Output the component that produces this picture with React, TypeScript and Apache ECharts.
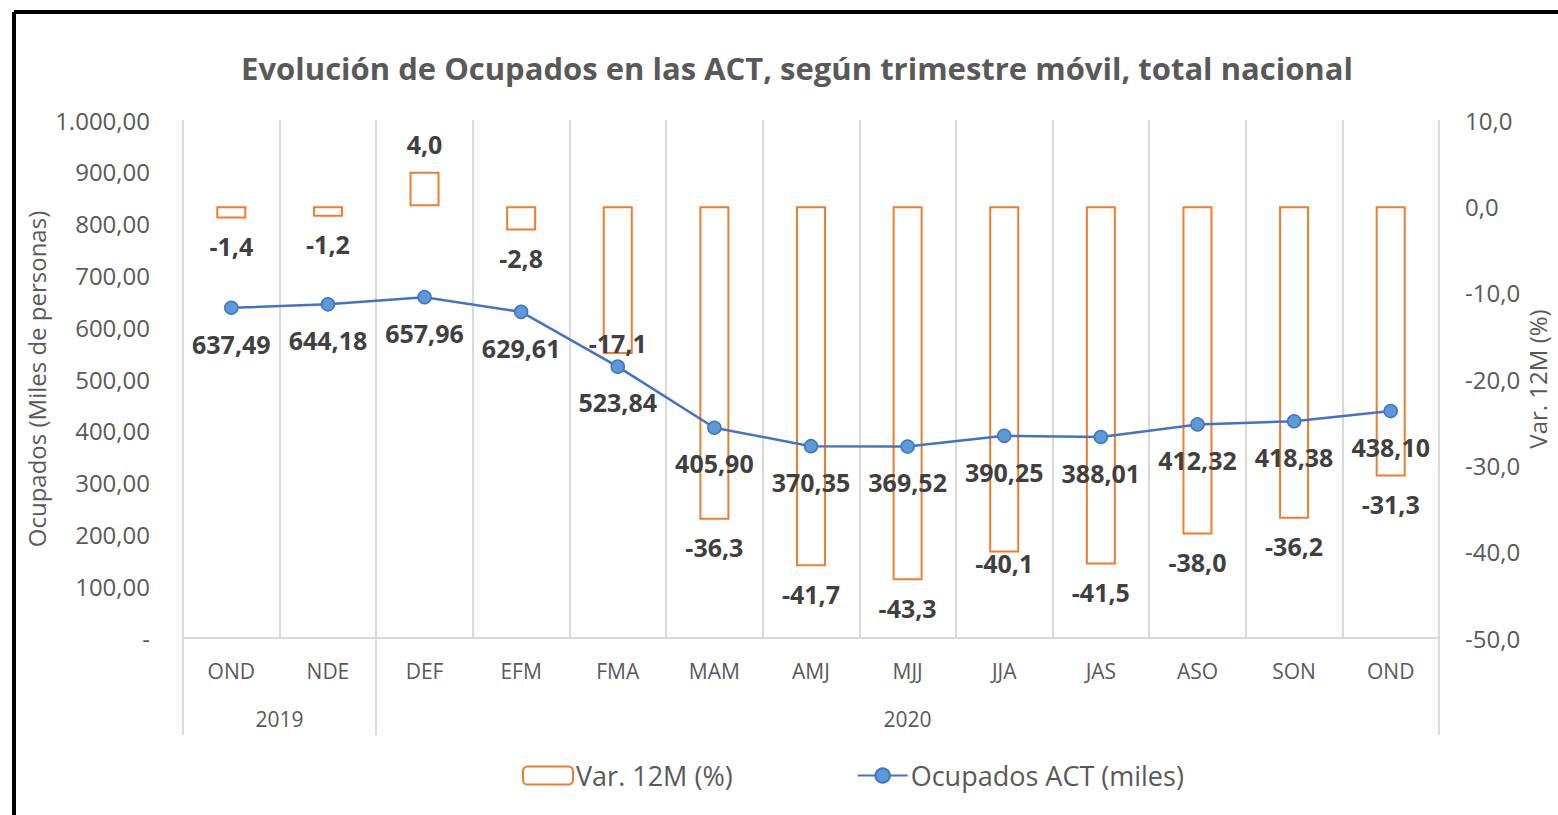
import React, { useEffect, useRef } from 'react';
import * as echarts from 'echarts';

const months = ['OND', 'NDE', 'DEF', 'EFM', 'FMA', 'MAM', 'AMJ', 'MJJ', 'JJA', 'JAS', 'ASO', 'SON', 'OND'];
const years = ['2019', '2020'];
const yearSpans = [2, 11];
const varPct = [-1.4, -1.2, 4.0, -2.8, -17.1, -36.3, -41.7, -43.3, -40.1, -41.5, -38.0, -36.2, -31.3];
const ocupados = [637.49, 644.18, 657.96, 629.61, 523.84, 405.9, 370.35, 369.52, 390.25, 388.01, 412.32, 418.38, 438.1];
const leftAxis = { min: 0, max: 1000, interval: 100 };
const rightAxis = { min: -50, max: 10, interval: 10 };

const FONT = "'Open Sans', sans-serif";
const GRAY = '#595959';
const GRID = '#D9D9D9';

function fmtNum(v: number, d: number): string {
  const s = v.toFixed(d);
  const parts = s.split('.');
  const i = parts[0].replace(/\B(?=(\d{3})+(?!\d))/g, '.');
  return parts[1] ? i + ',' + parts[1] : i;
}

export default function App() {
  const ref = useRef<HTMLDivElement>(null);
  useEffect(() => {
    if (!ref.current) return;
    const chart = echarts.init(ref.current, null, { renderer: 'svg' });

    const bounds: number[] = [0];
    const yearCenters: number[] = [];
    yearSpans.forEach((n) => {
      const start = bounds[bounds.length - 1];
      yearCenters.push(start + n / 2);
      bounds.push(start + n);
    });

    const barData = varPct.map((v, i) => {
      const label: any = { position: v >= 0 ? 'top' : 'bottom' };
      if (i === 4) label.offset = [0, -38];
      if (i === 8) label.offset = [0, -17];
      return { value: v, label };
    });

    chart.setOption({
      animation: false,
      textStyle: { fontFamily: FONT },
      title: {
        text: 'Evolución de Ocupados en las ACT, según trimestre móvil, total nacional',
        left: 792,
        top: 47,
        textAlign: 'center',
        textStyle: { fontFamily: FONT, fontSize: 31, fontWeight: 'bold', color: GRAY },
      },
      graphic: [
        { type: 'line', shape: { x1: 14, y1: 12, x2: 1558, y2: 12 }, style: { stroke: '#000', lineWidth: 4 } },
        { type: 'line', shape: { x1: 14, y1: 12, x2: 14, y2: 815 }, style: { stroke: '#000', lineWidth: 4 } },
      ],
      legend: {
        left: 517,
        top: 757,
        itemWidth: 50,
        itemHeight: 18,
        itemGap: 124,
        textStyle: { fontFamily: FONT, fontSize: 27, color: GRAY, padding: [0, 0, 0, -2] },
        data: ['Var. 12M (%)', 'Ocupados ACT (miles)'],
      },
      grid: { left: 183, right: 119, top: 120, bottom: 177, containLabel: false, outerBoundsMode: 'none' },
      xAxis: [
        {
          type: 'category',
          data: months,
          boundaryGap: true,
          axisLine: { lineStyle: { color: GRID, width: 2 } },
          axisTick: {
            show: true,
            length: 97,
            interval: (index: number) => bounds.indexOf(index) >= 0,
            lineStyle: { color: GRID, width: 2 },
          },
          splitLine: { show: true, interval: 0, lineStyle: { color: GRID, width: 2 } },
          axisLabel: { interval: 0, fontSize: 21, color: GRAY, margin: 22, fontFamily: FONT },
        },
        {
          type: 'value',
          min: 0,
          max: bounds[bounds.length - 1],
          position: 'bottom',
          axisLine: { show: false },
          splitLine: { show: false },
          axisTick: { show: false },
          axisLabel: {
            customValues: yearCenters,
            fontSize: 21,
            color: GRAY,
            margin: 70,
            fontFamily: FONT,
            formatter: (v: number) => {
              const idx = yearCenters.indexOf(v);
              return idx >= 0 ? years[idx] : '';
            },
          },
        },
      ],
      yAxis: [
        {
          type: 'value',
          min: leftAxis.min,
          max: leftAxis.max,
          interval: leftAxis.interval,
          name: 'Ocupados (Miles de personas)',
          nameLocation: 'middle',
          nameGap: 135,
          nameRotate: 90,
          nameMoveOverlap: false,
          nameTextStyle: { fontSize: 24, color: GRAY, fontFamily: FONT },
          axisLine: { show: false },
          axisTick: { show: false },
          splitLine: { show: false },
          axisLabel: {
            fontSize: 24,
            color: GRAY,
            margin: 33,
            fontFamily: FONT,
            formatter: (v: number) => (v === 0 ? '-' : fmtNum(v, 2)),
          },
        },
        {
          type: 'value',
          position: 'right',
          min: rightAxis.min,
          max: rightAxis.max,
          interval: rightAxis.interval,
          name: 'Var. 12M (%)',
          nameLocation: 'middle',
          nameGap: 86,
          nameRotate: 90,
          nameMoveOverlap: false,
          nameTextStyle: { fontSize: 24, color: GRAY, fontFamily: FONT },
          axisLine: { show: false },
          axisTick: { show: false },
          splitLine: { show: false },
          axisLabel: {
            fontSize: 24,
            color: GRAY,
            margin: 26,
            fontFamily: FONT,
            formatter: (v: number) => fmtNum(v, 1),
          },
        },
      ],
      series: [
        {
          name: 'Var. 12M (%)',
          type: 'bar',
          xAxisIndex: 0,
          yAxisIndex: 1,
          barWidth: 30,
          data: barData,
          itemStyle: { color: 'rgba(255,255,255,0)', borderColor: '#ED7D31', borderWidth: 2 },
          label: {
            show: true,
            distance: 15,
            fontSize: 25,
            fontWeight: 'bold',
            color: '#404040',
            fontFamily: FONT,
            formatter: (p: any) => fmtNum(p.value, 1),
          },
        },
        {
          name: 'Ocupados ACT (miles)',
          type: 'line',
          xAxisIndex: 0,
          yAxisIndex: 0,
          data: ocupados,
          symbol: 'circle',
          symbolSize: 13,
          lineStyle: { color: '#4472C4', width: 2.5 },
          itemStyle: { color: '#5B9BD5', borderColor: '#4472C4', borderWidth: 1.5 },
          label: {
            show: true,
            position: 'bottom',
            distance: 16,
            fontSize: 25,
            fontWeight: 'bold',
            color: '#404040',
            fontFamily: FONT,
            formatter: (p: any) => fmtNum(p.value, 2),
          },
        },
      ],
    });
    return () => chart.dispose();
  }, []);
  return (
    <div
      ref={ref}
      style={{ position: 'absolute', left: 0, top: 0, width: 1558, height: 815, background: '#fff' }}
    />
  );
}
